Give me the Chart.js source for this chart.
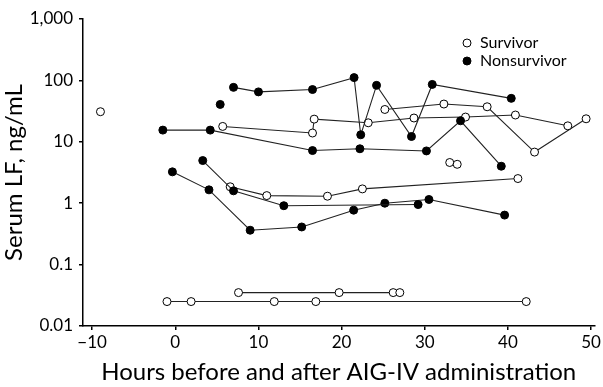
<!DOCTYPE html>
<html>
<head>
<meta charset="utf-8">
<script src="https://cdn.jsdelivr.net/npm/chart.js"></script>
<style>
  html, body { margin: 0; padding: 0; background: #fff; }
  #wrap { width: 603px; height: 387px; }
</style>
</head>
<body>
<div id="wrap"><canvas id="chart"></canvas></div>
<script>
// [hours, serum LF ng/mL] per patient
const survivorSingle = [[-9, 30.9]];
const survivorA = [[5.7, 17.8], [16.5, 13.9], [16.7, 23.4], [23.2, 20.4], [28.7, 24.4], [34.9, 25.3], [40.9, 27.3], [47.2, 18.2]];
const survivorB = [[25.2, 33.6], [32.3, 41.2], [37.5, 37.2], [43.2, 6.8], [49.4, 23.7]];
const survivorC = [[33.0, 4.6], [33.9, 4.3]];
const survivorD = [[6.6, 1.85], [11.0, 1.33], [18.3, 1.3], [22.5, 1.71], [41.2, 2.52]];
const survivorE = [[7.6, 0.035], [19.7, 0.035], [26.2, 0.035], [27.0, 0.035]];
const survivorF = [[-1.0, 0.025], [1.9, 0.025], [11.9, 0.025], [16.9, 0.025], [42.2, 0.025]];

const nonsurvivorSingle = [[5.4, 40.6]];
const nonsurvivorA = [[7.0, 77], [10.0, 65], [16.5, 71], [21.5, 111], [22.3, 13], [24.2, 83], [28.4, 12.2], [30.9, 86], [40.4, 51]];
const nonsurvivorB = [[-1.5, 15.5], [4.2, 15.5], [16.5, 7.2], [22.2, 7.7], [30.2, 7.1], [34.3, 22], [39.2, 4.0]];
const nonsurvivorC = [[3.3, 4.95], [7.0, 1.59], [13.05, 0.91], [29.2, 0.95]];
const nonsurvivorD = [[-0.35, 3.24], [4.05, 1.65], [9.0, 0.363], [15.2, 0.41], [21.45, 0.77], [25.2, 1.0], [30.5, 1.15], [39.6, 0.64]];

const xTicks = [-10, 0, 10, 20, 30, 40, 50];
const yTicks = [0.01, 0.1, 1, 10, 100, 1000];

const survivors = [survivorSingle, survivorA, survivorB, survivorC, survivorD, survivorE, survivorF];
const nonsurvivors = [nonsurvivorSingle, nonsurvivorA, nonsurvivorB, nonsurvivorC, nonsurvivorD];

const FONT = 'Lato, "Open Sans", sans-serif';

function makeSet(points, filled) {
    return {
        data: points.map(p => ({x: p[0], y: p[1]})),
        showLine: true,
        borderColor: '#222',
        borderWidth: 1.1,
        pointRadius: 4,
        pointHoverRadius: 4,
        pointBorderWidth: 1,
        pointBorderColor: '#000',
        pointBackgroundColor: filled ? '#000' : '#fff'
    };
}

const datasets = [
    ...nonsurvivors.map(s => makeSet(s, true)),
    ...survivors.map(s => makeSet(s, false))
];

const legendPlugin = {
    id: 'sideLegend',
    afterDraw(chart) {
        const ctx = chart.ctx;
        const items = [['Survivor', false], ['Nonsurvivor', true]];
        ctx.save();
        ctx.font = '16px ' + FONT;
        ctx.textBaseline = 'middle';
        items.forEach((it, i) => {
            const y = 43 + i * 18;
            ctx.beginPath();
            ctx.arc(467, y, 4, 0, Math.PI * 2);
            ctx.fillStyle = it[1] ? '#000' : '#fff';
            ctx.fill();
            ctx.lineWidth = 1;
            ctx.strokeStyle = '#000';
            ctx.stroke();
            ctx.fillStyle = '#000';
            ctx.fillText(it[0], 480, y);
        });
        ctx.restore();
    }
};

new Chart(document.getElementById('chart'), {
    type: 'scatter',
    data: {datasets: datasets},
    options: {
        responsive: true,
        maintainAspectRatio: false,
        animation: false,
        layout: {padding: {top: 19, right: 8, left: 0, bottom: 0}},
        plugins: {
            legend: {display: false},
            tooltip: {enabled: false}
        },
        scales: {
            x: {
                type: 'linear',
                min: -11.1,
                max: 50.4,
                afterBuildTicks: axis => { axis.ticks = xTicks.map(v => ({value: v})); },
                afterFit: axis => { axis.height = 61; },
                border: {color: '#000', width: 1.5},
                grid: {display: true, drawOnChartArea: false, drawTicks: true, tickLength: 4, color: '#000', lineWidth: 1.5},
                ticks: {
                    color: '#000',
                    font: {family: FONT, size: 17},
                    padding: 2,
                    maxRotation: 0,
                    callback: v => v < 0 ? '\u2212' + Math.abs(v) : String(v)
                },
                title: {
                    display: true,
                    text: 'Hours before and after AIG-IV administration',
                    color: '#000',
                    font: {family: FONT, size: 24},
                    padding: {top: 4, bottom: 0}
                }
            },
            y: {
                type: 'logarithmic',
                min: 0.01,
                max: 1000,
                afterBuildTicks: axis => { axis.ticks = yTicks.map(v => ({value: v})); },
                afterFit: axis => { axis.width = 83; },
                border: {color: '#000', width: 1.5},
                grid: {display: true, drawOnChartArea: false, drawTicks: true, tickLength: 4, color: '#000', lineWidth: 1.5},
                ticks: {
                    color: '#000',
                    font: {family: FONT, size: 17},
                    padding: 6,
                    callback: v => v.toLocaleString('en-US')
                },
                title: {
                    display: true,
                    text: 'Serum LF, ng/mL',
                    color: '#000',
                    font: {family: FONT, size: 24},
                    padding: {top: 0, bottom: 2}
                }
            }
        }
    },
    plugins: [legendPlugin]
});
</script>
</body>
</html>
